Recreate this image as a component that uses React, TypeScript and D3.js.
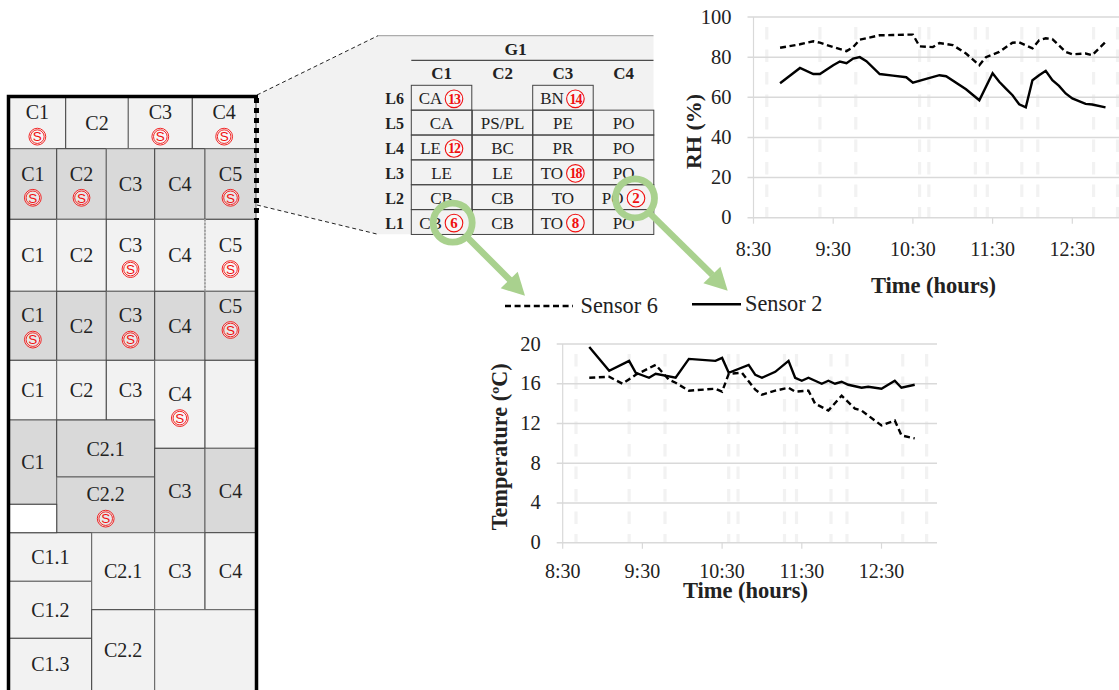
import * as React from "react";
import * as d3 from "d3";

const SERIF = "'Liberation Serif', serif";
const LINE = "#222";
const GREEN = "#a9d18e";
const RED = "#f01010";

// minutes after 8:30
const rhTime2 = [20, 35, 45, 50, 60, 65, 70, 75, 80, 85, 95, 105, 115, 120, 130, 140, 145, 160, 170, 180, 185, 190, 195, 200, 205, 210, 215, 220, 225, 230, 235, 240, 250, 255, 265];
const rhSensor2 = [67, 74.6, 71.6, 71.6, 76, 77.8, 77, 79.3, 80, 78, 71.6, 70.8, 70, 67.3, 69.2, 71, 70.5, 64, 58.5, 72, 67.7, 64.3, 61, 56.5, 55, 68.5, 71, 73.2, 68.5, 65.7, 61.9, 59.4, 56.7, 56.4, 55];
const rhTime6 = [20, 35, 45, 50, 60, 70, 75, 80, 85, 95, 105, 115, 120, 125, 135, 140, 150, 160, 170, 175, 185, 195, 200, 210, 215, 220, 225, 235, 240, 250, 255, 265];
const rhSensor6 = [84.7, 86.4, 87.9, 87.2, 85, 83, 85, 88.7, 89.4, 90.9, 91, 91.2, 91.2, 85.4, 85, 87, 86, 81.8, 76, 80, 82.6, 87.2, 87.4, 84.4, 88.4, 89.4, 89, 82.6, 81.4, 81.8, 81, 87.6];

const tTime2 = [20, 35, 50, 55, 65, 70, 85, 95, 115, 120, 125, 140, 145, 150, 160, 170, 175, 180, 185, 195, 200, 205, 210, 215, 225, 230, 240, 250, 255, 265];
const tSensor2 = [19.7, 17.3, 18.3, 17.1, 16.6, 17, 16.6, 18.5, 18.3, 18.6, 17.1, 17.9, 16.9, 16.6, 17.2, 18.3, 16.6, 16.3, 16.6, 16, 16.3, 16, 16.2, 15.9, 15.6, 15.7, 15.5, 16.3, 15.6, 15.9];
const tTime6 = [20, 35, 45, 55, 70, 80, 85, 95, 115, 120, 125, 135, 145, 150, 160, 170, 175, 185, 190, 200, 210, 220, 225, 240, 250, 255, 265];
const tSensor6 = [16.6, 16.7, 16, 16.9, 17.9, 16.4, 16.1, 15.3, 15.5, 15.2, 17, 17.1, 15.4, 14.9, 15.3, 15.6, 15.2, 15.3, 14, 13.3, 14.8, 13.5, 13.3, 11.8, 12.3, 10.8, 10.5];

const hourTicks = [0, 60, 120, 180, 240];
const hourLabels = ["8:30", "9:30", "10:30", "11:30", "12:30"];
const rhTicks = [0, 20, 40, 60, 80, 100];
const tTicks = [0, 4, 8, 12, 16, 20];
// light dashed verticals, minutes after 8:30
const eventTimes = [10, 50, 77, 125, 132, 167, 176, 202, 214, 256, 274];

const tableCols = ["C1", "C2", "C3", "C4"];
const tableRows = ["L6", "L5", "L4", "L3", "L2", "L1"];
const tableCells = [
  ["CA", "", "BN", ""],
  ["CA", "PS/PL", "PE", "PO"],
  ["LE", "BC", "PR", "PO"],
  ["LE", "LE", "TO", "PO"],
  ["CB", "CB", "TO", "PO"],
  ["CB", "CB", "TO", "PO"],
];
const tableSensors = [
  [13, 0, 14, 0],
  [0, 0, 0, 0],
  [12, 0, 0, 0],
  [0, 0, 18, 0],
  [0, 0, 0, 2],
  [6, 0, 8, 0],
];

type Room = { x0: number; x1: number; y0: number; y1: number; label?: string; s?: boolean; dark?: boolean; dy?: number };

// rows of the plan: x edges, y edges, labels
const room = (x0: number, x1: number, y0: number, y1: number, label = "", s = false, dark = false, dy = 0): Room => ({ x0, x1, y0, y1, label, s, dark, dy });
const X5 = [9, 56.7, 106.3, 154.7, 205, 256];

const row = (y0: number, y1: number, dark: boolean, sensors: boolean[]) =>
  sensors.map((s, i) => room(X5[i], X5[i + 1], y0, y1, `C${i + 1}`, s, dark));

const planRooms: Room[] = [
  room(9, 65.7, 97, 148.7, "C1", true),
  room(65.7, 128.3, 97, 148.7, "C2"),
  room(128.3, 192.3, 97, 148.7, "C3", true),
  room(192.3, 256, 97, 148.7, "C4", true),
  ...row(148.7, 219.3, true, [true, true, false, false, true]),
  ...row(219.3, 291.3, false, [false, false, true, false, true]),
  ...row(291.3, 360.3, true, [true, false, true, false]),
  room(205, 256, 291.3, 360.3, "C5", true, true, -9.6),
  room(9, 56.7, 360.3, 420, "C1"),
  room(56.7, 106.3, 360.3, 420, "C2"),
  room(106.3, 154.7, 360.3, 420, "C3"),
  room(154.7, 205, 360.3, 448.3, "C4", true),
  room(205, 256, 360.3, 448.3),
  room(9, 56.7, 420, 504.3, "C1", false, true),
  room(56.7, 154.7, 420, 477, "C2.1", false, true),
  room(56.7, 154.7, 477, 532.7, "C2.2", true, true),
  room(154.7, 205, 448.3, 532.7, "C3", false, true),
  room(205, 256, 448.3, 532.7, "C4", false, true),
  room(9, 91.7, 532.7, 581.3, "C1.1"),
  room(9, 91.7, 581.3, 638.3, "C1.2"),
  room(9, 91.7, 638.3, 695, "C1.3"),
  room(91.7, 154.7, 532.7, 609.7, "C2.1"),
  room(91.7, 154.7, 609.7, 695, "C2.2"),
  room(154.7, 205, 532.7, 609.7, "C3"),
  room(205, 256, 532.7, 609.7, "C4"),
  room(154.7, 256, 609.7, 695),
];

const SBadge = ({ x, y }: { x: number; y: number }) => (
  <g>
    <circle cx={x} cy={y} r={8.4} fill="#fff" fillOpacity={0.4} stroke={RED} strokeWidth={0.9} />
    <circle cx={x} cy={y} r={6.8} fill="none" stroke={RED} strokeWidth={0.9} />
    <text x={x} y={y + 4.7} textAnchor="middle" fontFamily="'Liberation Sans', sans-serif" fontSize={13.5} fill={RED}>S</text>
  </g>
);

const NumBadge = ({ x, y, n }: { x: number; y: number; n: number }) => (
  <g>
    <circle cx={x} cy={y} r={8.8} fill="#fff" fillOpacity={0.4} stroke={RED} strokeWidth={1.1} />
    <text x={x} y={y + 4.8} textAnchor="middle" fontFamily={SERIF} fontWeight="bold" fontSize={n > 9 ? 14 : 15} letterSpacing={n > 9 ? -1 : 0} fill={RED}>{n}</text>
  </g>
);

const Plan = () => (
  <g>
    {planRooms.map((r, i) => (
      <rect key={i} x={r.x0} y={r.y0} width={r.x1 - r.x0} height={r.y1 - r.y0} fill={r.dark ? "#d9d9d9" : "#f2f2f2"} stroke={i % 2 ? "#444" : "#666"} strokeWidth={1} />
    ))}
    <rect x={9} y={504.3} width={47.7} height={28.4} fill="#fff" stroke="#444" strokeWidth={1} />
    {/* dashed partition in the third row */}
    <line x1={205} x2={205} y1={219.3} y2={291.3} stroke="#f2f2f2" strokeWidth={1.4} />
    <line x1={205} x2={205} y1={219.3} y2={291.3} stroke="#777" strokeWidth={1} strokeDasharray="2 1.5" />
    {planRooms.filter((r) => r.label).map((r, i) => {
      const cx = (r.x0 + r.x1) / 2;
      const cy = (Math.min(r.y1, 690) + r.y0) / 2;
      const textY = (r.s ? cy - 3.5 : cy + 7) + (r.dy ?? 0);
      return (
        <g key={i}>
          <text x={cx} y={textY} textAnchor="middle" fontFamily={SERIF} fontSize={20} fill="#222">{r.label}</text>
          {r.s && <SBadge x={cx} y={textY + 17.3} />}
        </g>
      );
    })}
    {/* outer wall, dotted where the inset is taken from */}
    <path d="M256.5 219V695" fill="none" stroke="#000" strokeWidth={3.5} />
    <path d="M8.5 695V96.5H258" fill="none" stroke="#000" strokeWidth={3.5} />
    <path d="M256.5 98V220" fill="none" stroke="#000" strokeWidth={5} strokeDasharray="5 5" />
  </g>
);

const colX = d3.scaleOrdinal<string, number>().domain(tableCols).range([411.3, 472.3, 532.7, 593.3]);
const rowY = d3.scalePoint<string>().domain(tableRows).range([85.3, 209.6]);
const CELL_W = 60.5;
const CELL_H = rowY.step();

const Inset = () => (
  <g>
    <polygon points="257,95 378,35.7 653.5,35.7 653.5,234.3 378,234.3 257,205" fill="#f2f2f2" />
    <path d="M257 95L378 35.7" fill="none" stroke="#222" strokeWidth={1} strokeDasharray="4 3" />
    <path d="M257 205L378 234.3" fill="none" stroke="#222" strokeWidth={1} strokeDasharray="4 3" />
    <path d="M378 35.7H653.5" stroke="#999" strokeWidth={1} />
    <text x={515.7} y={55} textAnchor="middle" fontFamily={SERIF} fontWeight="bold" fontSize={17.5} fill="#222">G1</text>
    <path d="M411.3 60.3H653.5" stroke={LINE} strokeWidth={1} />
    {tableCols.map((c) => (
      <text key={c} x={colX(c) + CELL_W / 2} y={79} textAnchor="middle" fontFamily={SERIF} fontWeight="bold" fontSize={17} fill="#222">{c}</text>
    ))}
    {tableRows.map((l, r) => (
      <g key={l}>
        <text x={404} y={rowY(l)! + 19} textAnchor="end" fontFamily={SERIF} fontWeight="bold" fontSize={16} fill="#222">{l}</text>
        {tableCols.map((c, i) => {
          const label = tableCells[r][i];
          const sensor = tableSensors[r][i];
          if (!label) return null;
          const x = colX(c);
          const y = rowY(l)!;
          const shift = sensor ? -11 : 0;
          const textX = x + CELL_W / 2 + shift;
          return (
            <g key={c}>
              <rect x={x} y={y} width={CELL_W} height={CELL_H} fill="none" stroke="#444" strokeWidth={1} />
              <text x={textX} y={y + 19} textAnchor="middle" fontFamily={SERIF} fontSize={17} fill="#222">{label}</text>
              {sensor > 0 && <NumBadge x={x + 42.7} y={y + 13.5} n={sensor} />}
            </g>
          );
        })}
      </g>
    ))}
  </g>
);

const Callouts = () => (
  <g>
    <circle cx={452.7} cy={222.7} r={19.5} fill="none" stroke={GREEN} strokeWidth={6.8} />
    <path d="M467 237L510 280" stroke={GREEN} strokeWidth={6.5} />
    <polygon points="525,295.7 500.7,288.3 517.7,271.7" fill={GREEN} />
    <circle cx={635} cy={198.3} r={19.5} fill="none" stroke={GREEN} strokeWidth={6.8} />
    <path d="M649 212.5L712.5 275" stroke={GREEN} strokeWidth={6.5} />
    <polygon points="727.7,290.7 703.4,283.3 720.4,266.7" fill={GREEN} />
  </g>
);

const Legend = () => (
  <g fontFamily={SERIF} fontSize={22.3} fill="#222">
    <path d="M505 306H573" stroke="#000" strokeWidth={2.4} strokeDasharray="6 3.6" />
    <text x={580.5} y={312.5}>Sensor 6</text>
    <path d="M692 304.3H741" stroke="#000" strokeWidth={2.4} />
    <text x={745} y={310.7}>Sensor 2</text>
  </g>
);

type ChartProps = {
  x0: number; x1: number; y0: number; y1: number; xPerMin: number; maxY: number; ticks: number[];
  solidT: number[]; solid: number[]; dashT: number[]; dash: number[];
  yTitle: string; yTitleX: number; yTitleY: number; yTitleSize: number; xTitleX: number; xTitleY: number; tickLabelY: number;
};

const Chart = ({ x0, x1, y0, y1, xPerMin, maxY, ticks, solidT, solid, dashT, dash, yTitle, yTitleX, yTitleY, yTitleSize, xTitleX, xTitleY, tickLabelY }: ChartProps) => {
  const x = d3.scaleLinear().domain([0, 1]).range([x0, x0 + xPerMin]);
  const y = d3.scaleLinear().domain([0, maxY]).range([y0, y1]);
  const line = d3.line<[number, number]>().x((d) => x(d[0])).y((d) => y(d[1]));
  const solidLine = line(solidT.map((t, i) => [t, solid[i]] as [number, number]))!;
  const dashLine = line(dashT.map((t, i) => [t, dash[i]] as [number, number]))!;
  return (
    <g>
      {eventTimes.map((t) => (
        <line key={t} x1={x(t)} x2={x(t)} y1={y1 + 10} y2={y0} stroke="#f2f2f2" strokeWidth={3.2} strokeDasharray="12.5 10" />
      ))}
      {ticks.map((t) => (
        <line key={t} x1={x0 - 6} x2={x1} y1={y(t)} y2={y(t)} stroke="#d9d9d9" strokeWidth={1.5} />
      ))}
      <line x1={x0} x2={x0} y1={y1} y2={y0} stroke="#d9d9d9" strokeWidth={1.2} />
      {hourTicks.map((t) => (
        <line key={t} x1={x(t)} x2={x(t)} y1={y0} y2={y0 + 6} stroke="#d9d9d9" strokeWidth={1.2} />
      ))}
      <path d={dashLine} fill="none" stroke="#000" strokeWidth={2.4} strokeDasharray="6 3.6" />
      <path d={solidLine} fill="none" stroke="#000" strokeWidth={2.4} />
      {ticks.map((t) => (
        <text key={t} x={x0 - 22} y={y(t) + 6.5} textAnchor="end" fontFamily={SERIF} fontSize={20.5} fill="#222">{t}</text>
      ))}
      {hourTicks.map((t, i) => (
        <text key={t} x={x(t)} y={tickLabelY} textAnchor="middle" fontFamily={SERIF} fontSize={20} fill="#222">{hourLabels[i]}</text>
      ))}
      <text x={xTitleX} y={xTitleY} textAnchor="middle" fontFamily={SERIF} fontWeight="bold" fontSize={22.5} fill="#222">Time (hours)</text>
      <text transform={`translate(${yTitleX},${yTitleY}) rotate(-90)`} textAnchor="middle" fontFamily={SERIF} fontWeight="bold" fontSize={yTitleSize} fill="#222">{yTitle}</text>
    </g>
  );
};

export default function App() {
  return (
    <svg width={1119} height={690} style={{ position: "absolute", left: 0, top: 0 }}>
      <rect width={1119} height={690} fill="#fff" />
      <Inset />
      <Plan />
      <Chart x0={753.5} x1={1119} y0={217.7} y1={17} xPerMin={79.7 / 60} maxY={100} ticks={rhTicks}
        solidT={rhTime2} solid={rhSensor2} dashT={rhTime6} dash={rhSensor6}
        yTitle="RH (%)" yTitleX={700.5} yTitleY={131.5} yTitleSize={22} xTitleX={933.5} xTitleY={292.5} tickLabelY={256} />
      <Chart x0={562.7} x1={937} y0={542.7} y1={344} xPerMin={79.7 / 60} maxY={20} ticks={tTicks}
        solidT={tTime2} solid={tSensor2} dashT={tTime6} dash={tSensor6}
        yTitle="Temperature (ºC)" yTitleX={507} yTitleY={446.7} yTitleSize={22.2} xTitleX={745.5} xTitleY={598} tickLabelY={578} />
      <Callouts />
      <Legend />
    </svg>
  );
}
